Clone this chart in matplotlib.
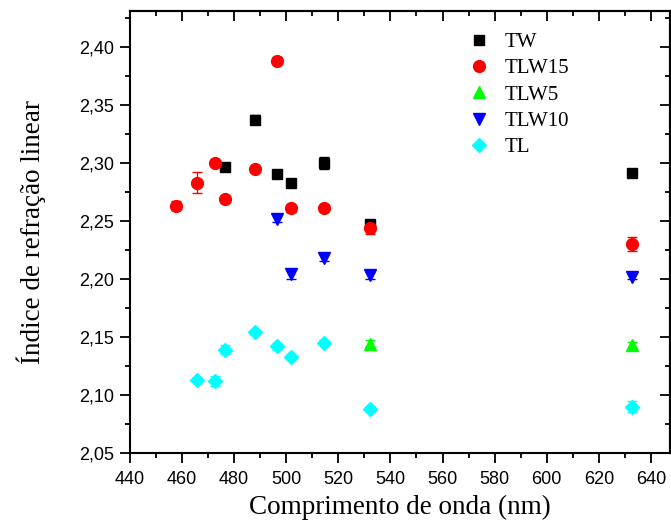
import numpy as np
import matplotlib
matplotlib.use("Agg")
import matplotlib.pyplot as plt
from matplotlib.ticker import MultipleLocator, FuncFormatter, NullFormatter
from matplotlib.lines import Line2D

# data (wavelength nm, linear refractive index, error)
w_tw = [476.5, 488.0, 496.5, 501.7, 514.5, 532.0, 632.8]
n_tw = [2.296, 2.337, 2.290, 2.283, 2.300, 2.247, 2.291]
e_tw = [0.002, 0.004, 0.002, 0.002, 0.005, 0.003, 0.002]

w_tlw15 = [457.9, 465.8, 472.7, 476.5, 488.0, 496.5, 501.7, 514.5, 532.0, 632.8]
n_tlw15 = [2.263, 2.283, 2.300, 2.269, 2.295, 2.388, 2.261, 2.261, 2.244, 2.230]
e_tlw15 = [0.004, 0.009, 0.002, 0.002, 0.002, 0.003, 0.003, 0.002, 0.005, 0.006]

w_tlw5 = [532.0, 632.8]
n_tlw5 = [2.144, 2.143]
e_tlw5 = [0.003, 0.003]

w_tlw10 = [496.5, 501.7, 514.5, 532.0, 632.8]
n_tlw10 = [2.252, 2.204, 2.218, 2.203, 2.202]
e_tlw10 = [0.003, 0.004, 0.003, 0.003, 0.002]

w_tl = [465.8, 472.7, 476.5, 488.0, 496.5, 501.7, 514.5, 532.0, 632.8]
n_tl = [2.113, 2.112, 2.139, 2.154, 2.142, 2.133, 2.145, 2.088, 2.090]
e_tl = [0.001, 0.004, 0.004, 0.002, 0.003, 0.002, 0.002, 0.002, 0.005]

series = [
    ("TW", w_tw, n_tw, e_tw, "s", "#000000", 7.5),
    ("TLW15", w_tlw15, n_tlw15, e_tlw15, "o", "#ff0000", 8.5),
    ("TLW5", w_tlw5, n_tlw5, e_tlw5, "^", "#00ff00", 9),
    ("TLW10", w_tlw10, n_tlw10, e_tlw10, "v", "#0000ff", 9),
    ("TL", w_tl, n_tl, e_tl, "D", "#00ffff", 7.5),
]

fig = plt.figure(figsize=(6.71, 5.29), dpi=100)
ax = fig.add_axes([0.1933, 0.1437, 0.8057, 0.8349])

handles = []
for name, w, n, e, mk, col, ms in series:
    ax.errorbar(w, n, yerr=e, fmt=mk, color=col, ms=ms, mec=col,
                ecolor=col, elinewidth=1, capsize=3.5, capthick=1)
    handles.append(Line2D([], [], ls="none", marker=mk, color=col, mec=col,
                          ms=ms, label=name))

ax.set_xlim(440, 647.4)
ax.set_ylim(2.05, 2.4305)

ax.xaxis.set_major_locator(MultipleLocator(20))
ax.xaxis.set_minor_locator(MultipleLocator(10))
ax.yaxis.set_major_locator(MultipleLocator(0.05))
ax.yaxis.set_minor_locator(MultipleLocator(0.025))
ax.yaxis.set_major_formatter(FuncFormatter(lambda v, p: f"{v:.2f}".replace(".", ",")))

# outward ticks on bottom/left
ax.tick_params(which="both", direction="out", top=False, right=False,
               width=1.3, labelsize=13, pad=4)
ax.tick_params(axis="x", which="major", length=7, pad=6)
ax.tick_params(axis="y", which="major", length=7)
ax.tick_params(which="minor", length=3.5)
for lab in ax.get_xticklabels() + ax.get_yticklabels():
    lab.set_fontfamily("Liberation Sans")

# inward ticks on top/right
secx = ax.secondary_xaxis("top")
secx.xaxis.set_major_locator(MultipleLocator(20))
secx.xaxis.set_minor_locator(MultipleLocator(10))
secx.xaxis.set_major_formatter(NullFormatter())
secx.tick_params(which="both", direction="in", width=1.3)
secx.tick_params(which="major", length=7)
secx.tick_params(which="minor", length=3.5)
secy = ax.secondary_yaxis("right")
secy.yaxis.set_major_locator(MultipleLocator(0.05))
secy.yaxis.set_minor_locator(MultipleLocator(0.025))
secy.yaxis.set_major_formatter(NullFormatter())
secy.tick_params(which="both", direction="in", width=1.3)
secy.tick_params(which="major", length=7)
secy.tick_params(which="minor", length=3.5)

for a in (ax, secx, secy):
    for sp in a.spines.values():
        sp.set_linewidth(1.5)

ax.set_xlabel("Comprimento de onda (nm)", fontfamily="Liberation Serif",
              fontsize=19.5, labelpad=5)
ax.set_ylabel("Índice de refração linear", fontfamily="Liberation Serif",
              fontsize=19.5, labelpad=24)

ax.legend(handles=handles, loc="upper left", bbox_to_anchor=(0.6, 0.985),
          frameon=False, prop={"family": "Liberation Serif", "size": 15},
          handlelength=1.0, handletextpad=0.75, labelspacing=0.32,
          borderpad=0.2)

fig.savefig("out.png", dpi=100)
